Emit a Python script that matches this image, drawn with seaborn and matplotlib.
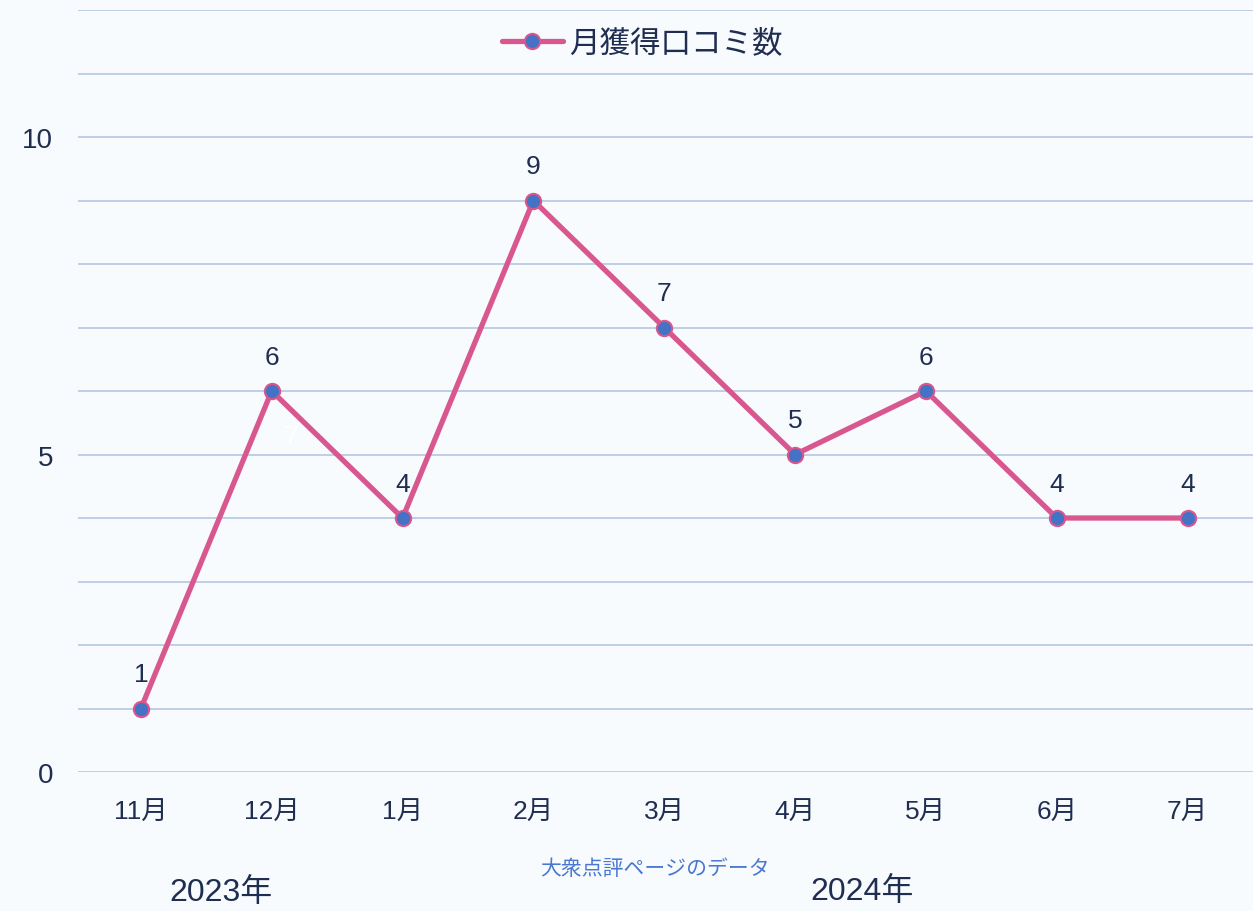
import pandas as pd
import matplotlib.pyplot as plt
import seaborn as sns

months = ['11月', '12月', '1月', '2月', '3月', '4月', '5月', '6月', '7月']
reviews = [1, 6, 4, 9, 7, 5, 6, 4, 4]
series_name = '月獲得口コミ数'
years = ['2023年', '2024年']
source_note = '大衆点評ページのデータ'

sns.set_style('white')
plt.rcParams['font.family'] = ['Liberation Sans', 'Noto Sans CJK JP', 'DejaVu Sans']

bg = '#f8fbfe'
navy = '#1f2d50'
pink = '#d9578f'
blue = '#4472c4'

df = pd.DataFrame({'month': months, 'reviews': reviews})
df['pos'] = range(len(df))

fig = plt.figure(figsize=(12.53, 9.12), dpi=100, facecolor=bg)
ax = fig.add_axes([0.0623, 0.1524, 0.9377, 0.8355])
ax.set_facecolor(bg)

sns.lineplot(data=df, x='pos', y='reviews', ax=ax, color=pink, linewidth=3.8,
             marker='o', markersize=11, markerfacecolor=blue,
             markeredgecolor=pink, markeredgewidth=1.5, label=series_name, zorder=3)

for p, v in zip(df['pos'], df['reviews']):
    ax.annotate(str(v), (p, v), xytext=(0, 16), textcoords='offset points',
                ha='center', va='bottom', fontsize=19, color=navy)
# faint white label in the reference
ax.text(1.15, 5.1, '7', ha='center', va='bottom', fontsize=19, color='white', zorder=2)

ax.set_xlim(-0.48, 8.5)
ax.set_ylim(0, 12)
ax.set_yticks(range(0, 13))
ax.set_yticklabels(['0', '', '', '', '', '5', '', '', '', '', '10', '', ''])
ax.set_xticks(df['pos'])
ax.set_xticklabels(months)
ax.grid(axis='y', color='#b3c7e3', linewidth=1.2)
ax.tick_params(length=0, colors=navy)
ax.tick_params(axis='x', pad=20, labelsize=19)
ax.tick_params(axis='y', pad=18, labelsize=20)
for s in ax.spines.values():
    s.set_visible(False)
ax.set_xlabel('')
ax.set_ylabel('')

leg = ax.legend(loc='center', bbox_to_anchor=(0.48, 0.956), frameon=False,
                fontsize=22, handlelength=2.0, handletextpad=0.2)
for t in leg.get_texts():
    t.set_color(navy)

fig.text(0.523, 0.047, source_note, ha='center', va='center', fontsize=15, color='#4a78d0')
fig.text(0.176, 0.004, years[0], ha='center', va='bottom', fontsize=23, color=navy)
fig.text(0.688, 0.006, years[1], ha='center', va='bottom', fontsize=23, color=navy)

fig.savefig('out.png', dpi=100, facecolor=bg)
